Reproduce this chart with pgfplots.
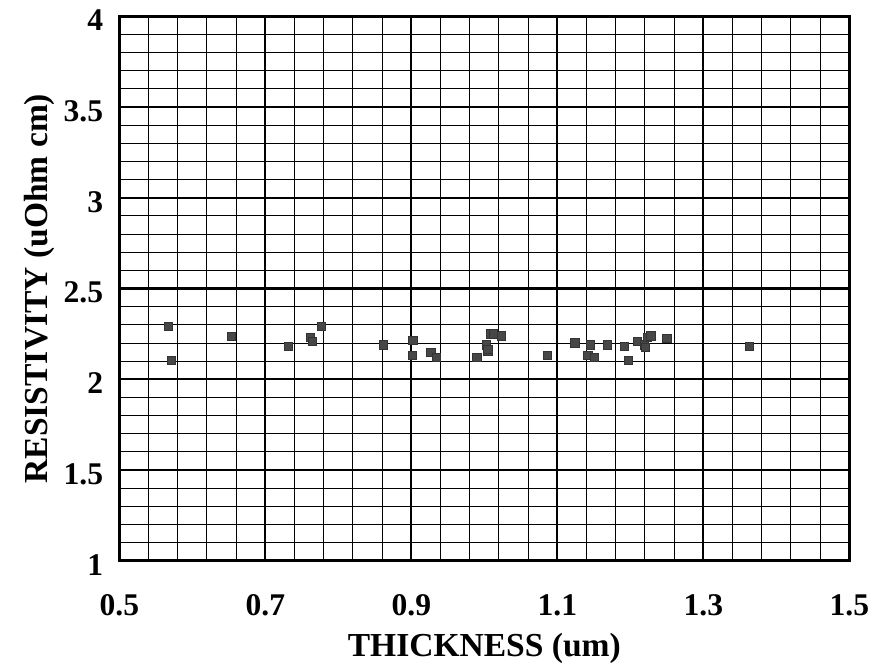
\documentclass[border=0pt]{standalone}
\usepackage{pgfplots}
\pgfplotsset{compat=1.18}
\usepackage{fontspec}
\setmainfont{Liberation Serif}
\begin{document}
\begin{tikzpicture}
\begin{axis}[
    width=370pt, height=276pt,
    scale only axis,
    xmin=0.5, xmax=1.5, ymin=1, ymax=4,
    xtick={0.5,0.7,...,1.5},
    ytick={1,1.5,...,4},
    xticklabels={0.5,0.7,0.9,1.1,1.3,1.5},
    yticklabels={1,1.5,2,2.5,3,3.5,4},
    minor x tick num=4,
    minor y tick num=4,
    grid=both,
    major grid style={black, line width=1.1pt},
    minor grid style={black, line width=0.5pt},
    axis line style={line width=1.5pt},
    major tick length=0pt, minor tick length=0pt,
    tick label style={font=\fontsize{16}{18}\selectfont\bfseries, inner sep=1pt},
    label style={font=\fontsize{17}{19}\selectfont\bfseries},
    xticklabel style={yshift=-16pt},
    yticklabel style={xshift=-7pt, yshift=-2pt},
    xlabel={THICKNESS (um)},
    ylabel={RESISTIVITY (uOhm cm)},
    xlabel style={yshift=-4pt},
    ylabel style={yshift=0pt},
    /pgf/number format/assume math mode=true,
]
\addplot[only marks, mark=square*, mark size=2.1pt, mark options={fill=black!72, draw=black!80}] coordinates {
(0.567,2.29) (0.571,2.105) (0.654,2.235) (0.732,2.18) (0.762,2.23) (0.764,2.21)
(0.777,2.29) (0.862,2.19) (0.902,2.215) (0.901,2.13) (0.927,2.15) (0.934,2.12)
(0.990,2.12) (1.003,2.19) (1.005,2.155) (1.009,2.25) (1.012,2.25) (1.023,2.24)
(1.005,2.165) (1.086,2.13) (1.124,2.20) (1.145,2.19) (1.142,2.13) (1.151,2.12)
(1.169,2.19) (1.192,2.18) (1.197,2.105) (1.210,2.21) (1.219,2.19) (1.223,2.23)
(1.228,2.24) (1.221,2.175) (1.250,2.225) (1.363,2.18)
};
\end{axis}
\path ([xshift=-9pt]current bounding box.west);
\path ([yshift=4pt]current bounding box.north);
\end{tikzpicture}
\end{document}
